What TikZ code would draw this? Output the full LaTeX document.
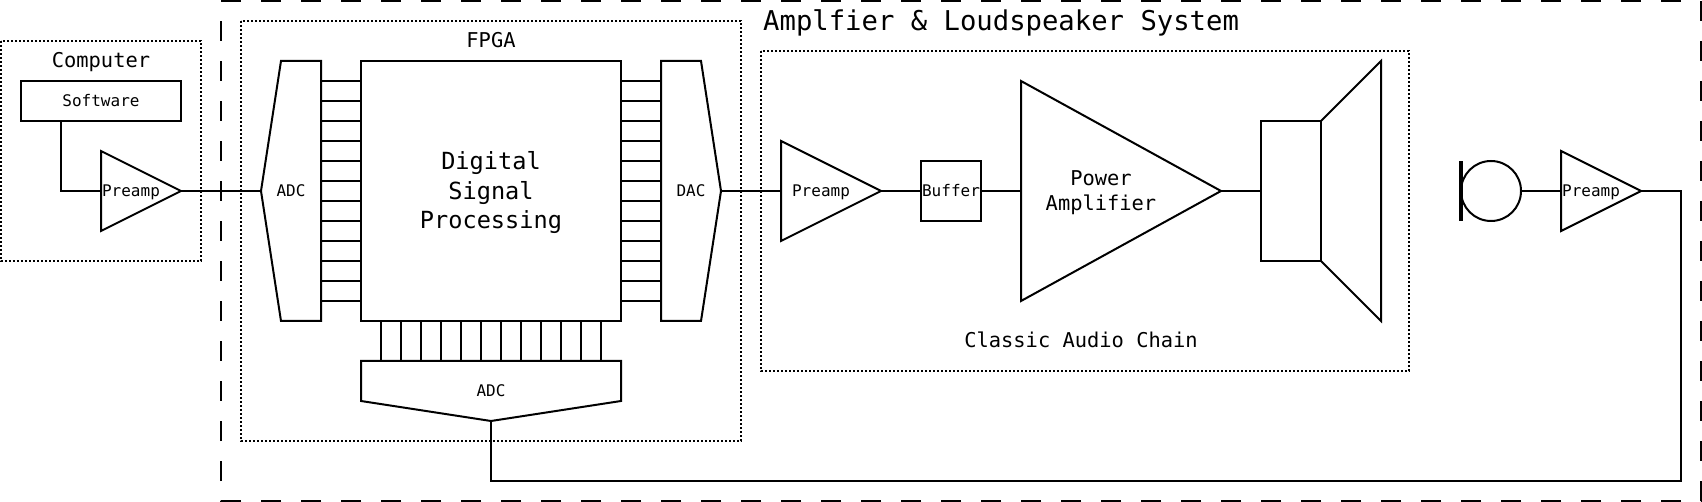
\documentclass[tikz,border=0pt]{standalone}
\usepackage{fontspec}
\setmainfont{DejaVu Sans Mono}
\newcommand{\szS}{\fontsize{16}{19}\selectfont}
\newcommand{\szM}{\fontsize{20.4}{24.5}\selectfont}
\newcommand{\szL}{\fontsize{23.6}{29.5}\selectfont}
\newcommand{\szX}{\fontsize{27.25}{32}\selectfont}
\tikzset{
  wire/.style={draw=black,line width=2pt},
  thickbar/.style={fill=black,rectangle,inner sep=0pt,outer sep=0pt,minimum width=4pt,minimum height=60pt},
  block/.style={draw=black,line width=2pt,rectangle,inner sep=0pt,outer sep=0pt},
  zone/.style={draw=black,line width=2pt,dash pattern=on 2pt off 2pt},
  outerzone/.style={draw=black,line width=2pt,dash pattern=on 20pt off 20pt},
  tiny label/.style={anchor=base,inner sep=0pt,font=\szS},
  mid label/.style={anchor=base,inner sep=0pt,font=\szM},
}
\begin{document}
\begin{tikzpicture}[x=1pt,y=-1pt]
\useasboundingbox (0,0) rectangle (1702,502);
% zones
\draw[outerzone] (221,1) -- (1701,1) -- (1701,501) -- (221,501) -- cycle;
\draw[zone] (1,41) rectangle (201,261);
\draw[zone] (241,21) rectangle (741,441);
\draw[zone] (761,51) rectangle (1409,371);
% anchors of polygon shapes
\coordinate (pcampIn) at (101,191);
\coordinate (pcampOut) at (181,191);
\coordinate (adclTip) at (261,191);
\coordinate (adclEast) at (321,191);
\coordinate (dacWest) at (661,191);
\coordinate (dacTip) at (721,191);
\coordinate (adcbNorth) at (491,361);
\coordinate (adcbTip) at (491,421);
\coordinate (chainIn) at (781,191);
\coordinate (chainOut) at (881,191);
\coordinate (powerIn) at (1021,191);
\coordinate (powerOut) at (1221,191);
\coordinate (micampIn) at (1561,191);
\coordinate (micampOut) at (1641,191);
\coordinate (fbA) at (491,481);
\coordinate (fbB) at (1681,481);
\coordinate (fbC) at (1681,191);
\coordinate (softDrop) at (61,121);
% rectangles
\node[block,minimum width=160pt,minimum height=40pt] (soft) at (101,101) {};
\node[block,minimum width=260pt,minimum height=260pt] (dsp) at (491,191) {};
\node[block,minimum width=60pt,minimum height=60pt] (buffer) at (951,191) {};
\node[block,minimum width=60pt,minimum height=140pt] (driver) at (1291,191) {};
\node[draw=black,line width=2pt,circle,inner sep=0pt,outer sep=0pt,minimum size=60pt] (mic) at (1491,191) {};
\node[thickbar] (micbar) at (1461,191) {};
% polygons
\draw[wire] (pcampIn |- 0,151) -- (pcampOut) -- (pcampIn |- 0,231) -- cycle;
\draw[wire] (adclTip) -- (281,61) -- (adclEast |- 0,61) -- (adclEast |- 0,321) -- (281,321) -- cycle;
\draw[wire] (dacTip) -- (701,61) -- (dacWest |- 0,61) -- (dacWest |- 0,321) -- (701,321) -- cycle;
\draw[wire] (361,361) -- (621,361) -- (621,401) -- (adcbTip) -- (361,401) -- cycle;
\draw[wire] (chainIn |- 0,141) -- (chainOut) -- (chainIn |- 0,241) -- cycle;
\draw[wire] (powerIn |- 0,81) -- (powerOut) -- (powerIn |- 0,301) -- cycle;
\draw[wire] (micampIn |- 0,151) -- (micampOut) -- (micampIn |- 0,231) -- cycle;
\draw[wire] (driver.north east) -- (1381,61) -- (1381,321) -- (driver.south east);
% connectors
\draw[wire] (soft.south -| softDrop) -- (softDrop |- pcampIn) -- (pcampIn);
\draw[wire] (pcampOut) -- (adclTip);
\draw[wire] (dacTip) -- (chainIn);
\draw[wire] (chainOut) -- (buffer.west);
\draw[wire] (buffer.east) -- (powerIn);
\draw[wire] (powerOut) -- (driver.west);
\draw[wire] (mic.east) -- (micampIn);
\draw[wire] (micampOut) -- (fbC) -- (fbB) -- (fbA) -- (adcbTip);
% buses
\foreach \y in {81,101,...,301} {
  \draw[wire] (adclEast |- 0,\y) -- (dsp.west |- 0,\y);
  \draw[wire] (dsp.east |- 0,\y) -- (dacWest |- 0,\y);
}
\foreach \x in {381,401,...,601} {
  \draw[wire] (\x,0 |- dsp.south) -- (\x,0 |- adcbNorth);
}
% labels
\node[mid label] (tComputer) at (101,68) {Computer};
\node[tiny label] (tSoft) at (101,107) {Software};
\node[tiny label] (tPre1) at (131,197) {Preamp};
\node[tiny label] (tAdc1) at (291,197) {ADC};
\node[mid label] (tFpga) at (491,48) {FPGA};
\node[inner sep=0pt,align=center,font=\szL] (tDsp) at (491,193) {Digital\\Signal\\Processing};
\node[tiny label] (tDac) at (691,197) {DAC};
\node[tiny label] (tAdc2) at (491,396) {ADC};
\node[anchor=base west,inner sep=0pt,font=\szX] (tTitle) at (763,30.5) {Amplfier \& Loudspeaker System};
\node[tiny label] (tPre2) at (821,197) {Preamp};
\node[tiny label] (tBuffer) at (951,197) {Buffer};
\node[inner sep=0pt,align=center,font=\szM] (tPower) at (1101,192.5) {Power\\Amplifier};
\node[mid label] (tChain) at (1081,348) {Classic Audio Chain};
\node[tiny label] (tPre3) at (1591,197) {Preamp};
\end{tikzpicture}
\end{document}
